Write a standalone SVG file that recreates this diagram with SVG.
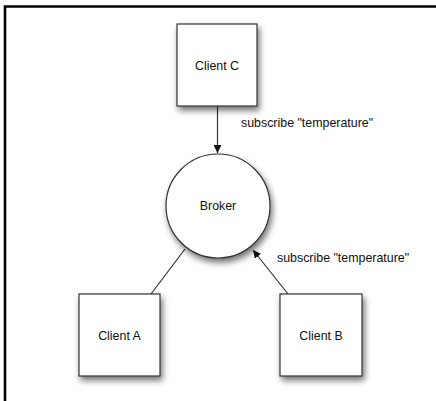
<svg xmlns="http://www.w3.org/2000/svg" width="436" height="401" viewBox="0 0 436 401">
  <style>
    .node { fill: #ffffff; stroke: #333333; stroke-width: 1.2; filter: url(#shadow); }
    .label { font-family: "Liberation Sans", Arial, sans-serif; font-size: 12.4px; fill: #111111; }
    .center { text-anchor: middle; dominant-baseline: central; }
    .edge { stroke: #333333; stroke-width: 1.2; fill: none; }
  </style>
  <defs>
    <filter id="shadow" x="-30%" y="-30%" width="160%" height="170%">
      <feDropShadow dx="2" dy="4" stdDeviation="3" flood-color="#000000" flood-opacity="0.55"/>
    </filter>
    <marker id="arrow" viewBox="0 0 10 10" refX="10" refY="5" markerWidth="8" markerHeight="8" markerUnits="userSpaceOnUse" orient="auto">
      <path d="M0,0 L10,5 L0,10 z" fill="#111111"/>
    </marker>
  </defs>

  <rect width="436" height="401" fill="#ffffff"/>
  <!-- frame: top and left edges -->
  <path d="M5,401 V6.5 H436" fill="none" stroke="#000000" stroke-width="2.6"/>

  <g id="connectors">
    <line class="edge" x1="217.5" y1="106" x2="217.5" y2="153" marker-end="url(#arrow)"/>
    <line class="edge" x1="151" y1="294" x2="185" y2="249"/>
    <line class="edge" x1="288" y1="294" x2="253" y2="250" marker-end="url(#arrow)"/>
    <text class="label" x="241" y="127">subscribe "temperature"</text>
    <text class="label" x="277" y="262">subscribe "temperature"</text>
  </g>

  <g id="client-c">
    <rect class="node" x="177" y="24" width="80" height="82"/>
    <text class="label center" x="217" y="66">Client C</text>
  </g>

  <g id="broker">
    <circle class="node" cx="218" cy="206" r="52"/>
    <text class="label center" x="218" y="206">Broker</text>
  </g>

  <g id="client-a">
    <rect class="node" x="79" y="294" width="81" height="82"/>
    <text class="label center" x="119.5" y="336">Client A</text>
  </g>

  <g id="client-b">
    <rect class="node" x="280" y="294" width="82" height="82"/>
    <text class="label center" x="321" y="336">Client B</text>
  </g>
</svg>
